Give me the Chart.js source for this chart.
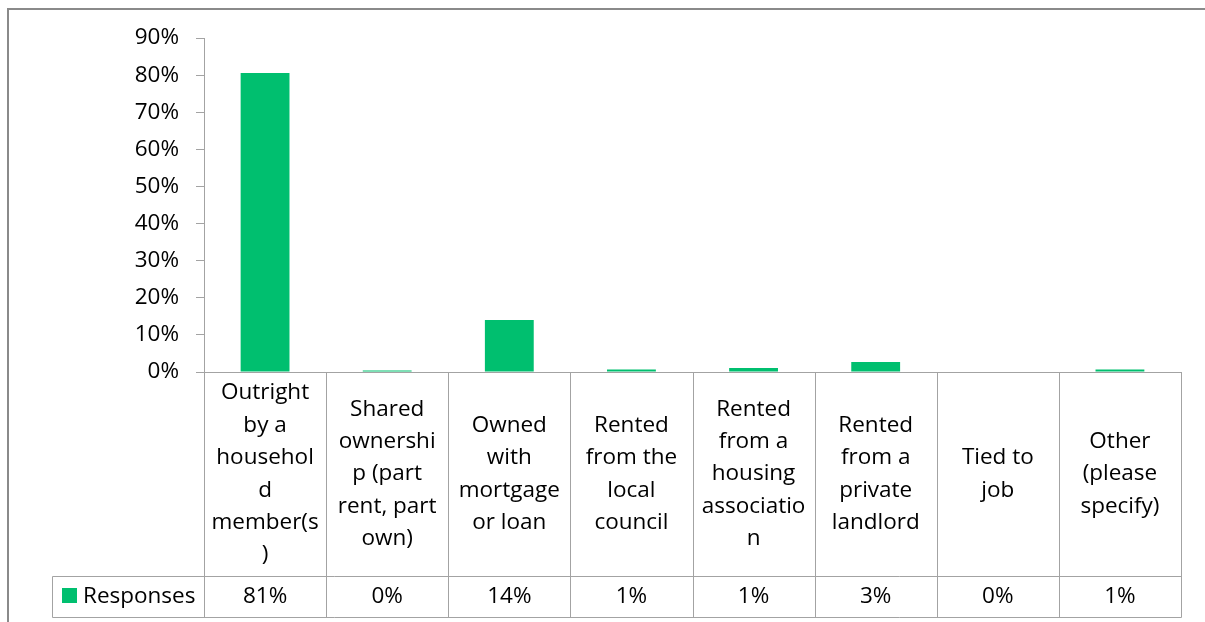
<!DOCTYPE html>
<html><head><meta charset="utf-8">
<script src="https://cdn.jsdelivr.net/npm/chart.js@4"></script>
<style>html,body{margin:0;padding:0;background:#fff;overflow:hidden}canvas{display:block}</style>
</head><body>
<canvas id="c" width="1205" height="622"></canvas>
<script>
// ---- data ----
const categories = [
  ["Outright","by a","househol","d","member(s",")"],
  ["Shared","ownershi","p (part","rent, part","own)"],
  ["Owned","with","mortgage","or loan"],
  ["Rented","from the","local","council"],
  ["Rented","from a","housing","associatio","n"],
  ["Rented","from a","private","landlord"],
  ["Tied to","job"],
  ["Other","(please","specify)"]
];
const responses = [80.6, 0.4, 14.0, 0.7, 1.1, 2.7, 0, 0.7];
const tableValues = ["81%","0%","14%","1%","1%","3%","0%","1%"];
const seriesName = "Responses";
const yMin = 0, yMax = 90, yStep = 10;

// ---- style ----
const FONT = "'Open Sans', sans-serif";
const FSIZE = 22.5;
const GREEN = "#00BF6F";
const LINE = "#a3a3a3";
const TEXT = "#000000";

const tablePlugin = {
  id: "dataTable",
  afterDraw(chart) {
    const ctx = chart.ctx, xs = chart.scales.x, area = chart.chartArea;
    const n = categories.length;
    const step = xs.getPixelForValue(1) - xs.getPixelForValue(0);
    const edges = [];
    for (let i = 0; i < n; i++) edges.push(xs.getPixelForValue(i) - step / 2);
    edges.push(xs.getPixelForValue(n - 1) + step / 2);
    const top = area.bottom, labelBottom = 576, rowBottom = 617, keyLeft = 52;
    const al = v => Math.round(v) + 0.5;

    ctx.save();
    // outer chart border
    ctx.strokeStyle = "#8a8a8a"; ctx.lineWidth = 2;
    ctx.beginPath();
    ctx.moveTo(8, 640); ctx.lineTo(8, 9); ctx.lineTo(1210, 9);
    ctx.stroke();

    // table lines
    ctx.strokeStyle = LINE; ctx.lineWidth = 1;
    ctx.beginPath();
    edges.forEach(e => { ctx.moveTo(al(e), al(top)); ctx.lineTo(al(e), al(rowBottom)); });
    ctx.moveTo(al(keyLeft), al(labelBottom)); ctx.lineTo(al(edges[n]), al(labelBottom));
    ctx.moveTo(al(keyLeft), al(rowBottom)); ctx.lineTo(al(edges[n]), al(rowBottom));
    ctx.moveTo(al(keyLeft), al(labelBottom)); ctx.lineTo(al(keyLeft), al(rowBottom));
    ctx.stroke();

    // category labels
    ctx.fillStyle = TEXT;
    ctx.font = FSIZE + "px " + FONT;
    ctx.textAlign = "center"; ctx.textBaseline = "middle";
    const lh = 32.4;
    const midY = (top + labelBottom) / 2;
    categories.forEach((lines, i) => {
      const cx = xs.getPixelForValue(i);
      const y0 = midY - (lines.length - 1) * lh / 2;
      lines.forEach((t, j) => ctx.fillText(t, cx, y0 + j * lh));
    });

    // values row
    const rowY = (labelBottom + rowBottom) / 2;
    tableValues.forEach((t, i) => ctx.fillText(t, xs.getPixelForValue(i), rowY));

    // legend key
    ctx.fillStyle = GREEN;
    ctx.fillRect(62, 588, 15, 15);
    ctx.fillStyle = TEXT;
    ctx.textAlign = "left";
    ctx.fillText(seriesName, 83, rowY);
    ctx.restore();
  }
};

new Chart(document.getElementById("c"), {
  type: "bar",
  data: {
    labels: categories.map(l => l.join(" ")),
    datasets: [{
      label: seriesName,
      data: responses,
      backgroundColor: GREEN,
      borderWidth: 0,
      barPercentage: 0.4,
      categoryPercentage: 1.0
    }]
  },
  options: {
    responsive: false,
    animation: false,
    devicePixelRatio: 1,
    layout: { padding: { left: 0, top: 38, right: 24, bottom: 46 } },
    plugins: { legend: { display: false }, tooltip: { enabled: false } },
    scales: {
      x: {
        offset: true,
        ticks: { display: false },
        grid: { display: false },
        border: { display: true, color: LINE, width: 1 },
        afterFit(s) { s.height = 204; }
      },
      y: {
        min: yMin, max: yMax,
        ticks: {
          stepSize: yStep,
          callback: v => v + "%",
          padding: 17,
          color: TEXT,
          font: { family: FONT, size: FSIZE }
        },
        grid: { drawOnChartArea: false, drawTicks: true, tickLength: 8, color: LINE, tickColor: LINE },
        border: { display: true, color: LINE, width: 1 },
        afterFit(s) { s.width = 204; }
      }
    }
  },
  plugins: [tablePlugin]
});
</script>
</body></html>
